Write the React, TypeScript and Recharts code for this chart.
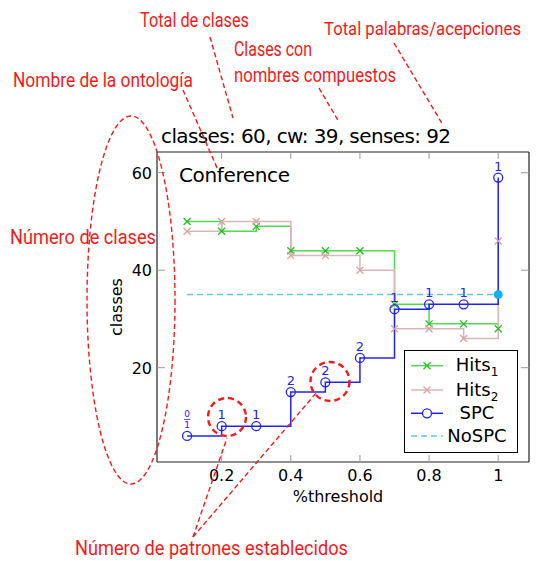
import React from 'react';
import { ComposedChart, Line, XAxis, YAxis, Legend } from 'recharts';

// umbral (%threshold) y número de clases por método
const thresholds = [0.1, 0.2, 0.3, 0.4, 0.5, 0.6, 0.7, 0.8, 0.9, 1];
const hits1 = [50, 48, 49, 44, 44, 44, 33, 29, 29, 28];
const hits2 = [48, 50, 50, 43, 43, 40, 28, 28, 26, 46];
const spc = [6, 8, 8, 15, 17, 22, 32, 33, 33, 59];
const noSpc = [35, 35, 35, 35, 35, 35, 35, 35, 35, 35];
// patrones establecidos en cada punto de SPC
const spcPatterns = ['0/1', '1', '1', '2', '2', '2', '1', '1', '1', '1'];

const xTicks = [0.2, 0.4, 0.6, 0.8, 1];
const yTicks = [20, 40, 60];
const X_DOMAIN = [0.013, 1.089];
const Y_DOMAIN = [0.66, 64.25];

const GREEN_LINE = '#52d852';
const GREEN_PT = '#1fbf1f';
const PINK_LINE = '#dcb6b6';
const PINK_PT = '#d7a3a3';
const BLUE = '#2323f5';
const CYAN = '#5cc8f0';
const CYAN_PT = '#18aff0';
const RED = '#f41a1a';
const TICK = '#9a9a9a';
const FONT = '"DejaVu Sans", sans-serif';
const RED_FONT = 'Roboto, "Noto Sans", sans-serif';

const rows = thresholds.map((t, i) => ({
  t,
  hits1: hits1[i],
  hits2: hits2[i],
  spc: spc[i],
  noSpc: noSpc[i],
}));

const crossDot = (color: string, tag: string) => (props: any) => {
  const { cx, cy, index } = props;
  const s = 3.5;
  return (
    <path
      key={`${tag}-${index}`}
      d={`M${cx - s},${cy - s}L${cx + s},${cy + s}M${cx - s},${cy + s}L${cx + s},${cy - s}`}
      stroke={color}
      strokeWidth={1.3}
      fill="none"
    />
  );
};

const spcDot = (props: any) => {
  const { cx, cy, index } = props;
  const lab = spcPatterns[index];
  let label: React.ReactNode;
  if (lab.includes('/')) {
    const [n, d] = lab.split('/');
    label = (
      <g fill={BLUE} fontSize={9} fontFamily={FONT} textAnchor="middle">
        <text x={cx} y={cy - 19}>{n}</text>
        <line x1={cx - 3} x2={cx + 3} y1={cy - 16.5} y2={cy - 16.5} stroke={BLUE} strokeWidth={0.8} />
        <text x={cx} y={cy - 8}>{d}</text>
      </g>
    );
  } else {
    label = (
      <text x={cx} y={cy - 7} fill={BLUE} fontSize={13} fontFamily={FONT} textAnchor="middle">
        {lab}
      </text>
    );
  }
  return (
    <g key={`spc-${index}`}>
      <circle cx={cx} cy={cy} r={4.5} stroke={BLUE} strokeWidth={1.3} fill="none" />
      {label}
    </g>
  );
};

const noSpcDot = (props: any) => {
  const { cx, cy, index } = props;
  if (index !== noSpc.length - 1) return <g key={`ns-${index}`} />;
  return <circle key={`ns-${index}`} cx={cx} cy={cy} r={4.5} fill={CYAN_PT} stroke="none" />;
};

// ticks hacia dentro, al estilo gnuplot
const BottomTick = (props: any) => {
  const { x, y, payload } = props;
  return (
    <g>
      <line x1={x} x2={x} y1={y} y2={y - 7} stroke={TICK} />
      <text x={x} y={y + 19} textAnchor="middle" fontSize={16} fontFamily={FONT} fill="#000">
        {payload.value}
      </text>
    </g>
  );
};
const TopTick = (props: any) => {
  const { x, y } = props;
  return <line x1={x} x2={x} y1={y} y2={y + 7} stroke={TICK} />;
};
const LeftTick = (props: any) => {
  const { x, y, payload } = props;
  return (
    <g>
      <line x1={x} x2={x + 8} y1={y} y2={y} stroke={TICK} />
      <text x={x - 5} y={y + 6} textAnchor="end" fontSize={16} fontFamily={FONT} fill="#000">
        {payload.value}
      </text>
    </g>
  );
};
const RightTick = (props: any) => {
  const { x, y } = props;
  return <line x1={x} x2={x - 8} y1={y} y2={y} stroke={TICK} />;
};

const legendRows = [
  { name: 'Hits', sub: '1', line: GREEN_LINE, pt: GREEN_PT, kind: 'x' },
  { name: 'Hits', sub: '2', line: PINK_LINE, pt: PINK_PT, kind: 'x' },
  { name: 'SPC', sub: '', line: BLUE, pt: BLUE, kind: 'o' },
  { name: 'NoSPC', sub: '', line: CYAN, pt: CYAN, kind: 'dash' },
];

const LegendBox = () => {
  const ys = [15.7, 40, 63.3, 86];
  return (
    <svg width={114} height={103} style={{ display: 'block' }}>
      <rect x={0.5} y={0.5} width={113} height={102} fill="#fff" stroke="#000" />
      {legendRows.map((r, i) => {
        const y = ys[i];
        return (
          <g key={i}>
            <line
              x1={7}
              x2={39}
              y1={y}
              y2={y}
              stroke={r.line}
              strokeWidth={1.5}
              strokeDasharray={r.kind === 'dash' ? '6 4' : undefined}
            />
            {r.kind === 'x' && (
              <path d={`M19.5,${y - 3.5}L26.5,${y + 3.5}M19.5,${y + 3.5}L26.5,${y - 3.5}`} stroke={r.pt} strokeWidth={1.3} />
            )}
            {r.kind === 'o' && <circle cx={23} cy={y} r={4.5} stroke={r.pt} strokeWidth={1.3} fill="#fff" />}
            <text x={73} y={y + 5.5} textAnchor="middle" fontSize={18} fontFamily={FONT} fill="#000">
              {r.name}
              {r.sub && (
                <tspan fontSize={12} dy={5}>
                  {r.sub}
                </tspan>
              )}
            </text>
          </g>
        );
      })}
    </svg>
  );
};

const redTexts = [
  { text: 'Total de clases', x: 140, y: 27, len: 109, size: 20 },
  { text: 'Total palabras/acepciones', x: 324, y: 35, len: 197, size: 18 },
  { text: 'Clases con', x: 234, y: 56, len: 78, size: 20 },
  { text: 'nombres compuestos', x: 234, y: 82, len: 162, size: 20 },
  { text: 'Nombre de la ontología', x: 13, y: 87, len: 180, size: 20 },
  { text: 'Número de clases', x: 10, y: 244, len: 146, size: 20 },
  { text: 'Número de patrones establecidos', x: 75, y: 555, len: 273, size: 20 },
];

const redLines = [
  [210, 37, 233, 118],
  [183, 90, 218, 170],
  [319, 88, 339, 122],
  [394, 43, 443, 125],
  [193, 537, 227, 438],
  [193, 537, 317, 392],
];

const axisLine = { stroke: '#222', strokeWidth: 1.2 };

export default function App() {
  return (
    <div style={{ position: 'absolute', left: 0, top: 0, width: 556, height: 561, background: '#fff' }}>
      <ComposedChart
        width={556}
        height={561}
        data={rows}
        margin={{ top: 151, right: 26, bottom: 69, left: 117 }}
      >
        <XAxis
          dataKey="t"
          type="number"
          domain={X_DOMAIN}
          allowDataOverflow
          ticks={xTicks}
          height={30}
          tickSize={0}
          tickMargin={0}
          tickLine={false}
          tick={BottomTick}
          axisLine={axisLine}
          label={{
            content: (p: any) => (
              <text
                x={338}
                y={p.viewBox.y + 40}
                textAnchor="middle"
                fontSize={16}
                fontFamily={FONT}
                fill="#000"
              >
                %threshold
              </text>
            ),
          }}
        />
        <XAxis
          xAxisId="top"
          orientation="top"
          dataKey="t"
          type="number"
          domain={X_DOMAIN}
          allowDataOverflow
          ticks={xTicks}
          height={1}
          tickSize={0}
          tickMargin={0}
          tickLine={false}
          tick={TopTick}
          axisLine={axisLine}
        />
        <YAxis
          type="number"
          domain={Y_DOMAIN}
          allowDataOverflow
          ticks={yTicks}
          width={40}
          tickSize={0}
          tickMargin={0}
          tickLine={false}
          tick={LeftTick}
          axisLine={axisLine}
          label={{
            content: (p: any) => (
              <text
                transform={`translate(${p.viewBox.x + p.viewBox.width - 35},${p.viewBox.y + p.viewBox.height / 2}) rotate(-90)`}
                textAnchor="middle"
                fontSize={16}
                fontFamily={FONT}
                fill="#000"
              >
                classes
              </text>
            ),
          }}
        />
        <YAxis
          yAxisId="right"
          orientation="right"
          type="number"
          domain={Y_DOMAIN}
          allowDataOverflow
          ticks={yTicks}
          width={1}
          tickSize={0}
          tickMargin={0}
          tickLine={false}
          tick={RightTick}
          axisLine={axisLine}
        />
        <Line
          dataKey="hits1"
          type="stepAfter"
          stroke={GREEN_LINE}
          strokeWidth={1.5}
          dot={crossDot(GREEN_PT, 'h1')}
          activeDot={false}
          isAnimationActive={false}
        />
        <Line
          dataKey="hits2"
          type="stepAfter"
          stroke={PINK_LINE}
          strokeWidth={1.5}
          dot={crossDot(PINK_PT, 'h2')}
          activeDot={false}
          isAnimationActive={false}
        />
        <Line
          dataKey="spc"
          type="stepAfter"
          stroke={BLUE}
          strokeWidth={1.5}
          dot={spcDot}
          activeDot={false}
          isAnimationActive={false}
        />
        <Line
          dataKey="noSpc"
          type="linear"
          stroke={CYAN}
          strokeWidth={1.5}
          strokeDasharray="6 4"
          dot={noSpcDot}
          activeDot={false}
          isAnimationActive={false}
        />
        <Legend
          layout="vertical"
          align="center"
          verticalAlign="middle"
          content={() => <LegendBox />}
          wrapperStyle={{ left: 404, top: 350, width: 114, height: 103 }}
        />
      </ComposedChart>

      <svg
        width={556}
        height={561}
        style={{ position: 'absolute', left: 0, top: 0, pointerEvents: 'none' }}
      >
        <text x={161} y={143} fontSize={20} fontFamily={FONT} fill="#000" textLength={290}>
          classes: 60, cw: 39, senses: 92
        </text>
        <text x={179} y={182} fontSize={20} fontFamily={FONT} fill="#000" textLength={111}>
          Conference
        </text>

        {redTexts.map((t) => (
          <text key={t.text} x={t.x} y={t.y} fontSize={t.size} fontFamily={RED_FONT} fill={RED} textLength={t.len} lengthAdjust="spacingAndGlyphs">
            {t.text}
          </text>
        ))}
        <g stroke={RED} strokeWidth={1.4} strokeDasharray="5 3" fill="none">
          {redLines.map((l, i) => (
            <line key={i} x1={l[0]} y1={l[1]} x2={l[2]} y2={l[3]} />
          ))}
          <ellipse cx={131} cy={300} rx={44} ry={184} />
        </g>
        <g stroke={RED} strokeWidth={2.4} strokeDasharray="6 4" fill="none">
          <circle cx={227} cy={417} r={19} />
          <circle cx={330} cy={381.5} r={19.5} />
        </g>
      </svg>
    </div>
  );
}
